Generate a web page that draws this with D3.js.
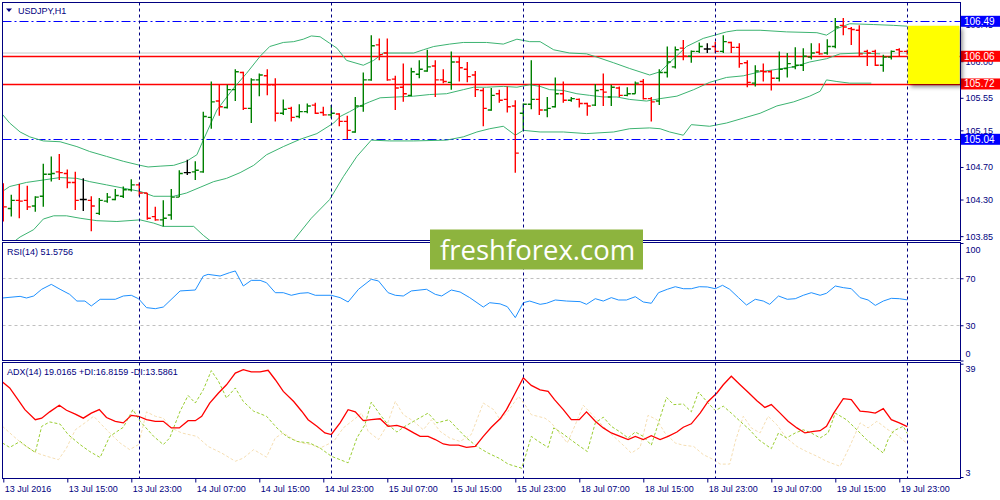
<!DOCTYPE html>
<html>
<head>
<meta charset="utf-8">
<script src="https://cdn.jsdelivr.net/npm/d3@7.9.0/dist/d3.min.js"></script>
<style>
  html, body { margin: 0; padding: 0; background: #fff; }
  svg { display: block; font-family: Tahoma, 'Liberation Sans', Arial, sans-serif; }
  .lbl { font-size: 9px; fill: #000080; }
</style>
</head>
<body>
<div id="chart"></div>
<script>
// ---- data ----
const symbol = 'USDJPY,H1';
const timeLabels = ['13 Jul 2016', '13 Jul 15:00', '13 Jul 23:00', '14 Jul 07:00', '14 Jul 15:00',
  '14 Jul 23:00', '15 Jul 07:00', '15 Jul 15:00', '15 Jul 23:00', '18 Jul 07:00', '18 Jul 15:00',
  '18 Jul 23:00', '19 Jul 07:00', '19 Jul 15:00', '19 Jul 23:00'];
const daySeparators = [17, 41, 65, 89, 113]; // bar index of each 00:00

const opens = [104.29,104.19,104.29,104.29,104.22,104.34,104.61,104.64,104.62,104.51,104.30,104.29,104.13,104.28,104.30,104.34,104.42,104.48,104.38,104.09,
  104.05,104.11,104.33,104.63,104.64,104.64,105.31,105.51,105.43,105.65,105.86,105.42,105.77,105.82,105.71,105.36,105.42,105.32,105.38,105.46,
  105.37,105.34,105.35,105.26,105.13,105.45,105.77,106.20,106.10,105.78,105.68,105.58,105.84,105.88,105.94,105.77,105.74,105.99,105.90,105.83,
  105.64,105.40,105.60,105.53,105.45,105.36,105.47,105.53,105.40,105.44,105.60,105.52,105.53,105.48,105.46,105.65,105.56,105.67,105.58,105.60,
  105.75,105.54,105.51,105.86,105.93,106.16,106.06,106.12,106.15,106.18,106.12,106.23,106.17,105.98,105.73,105.88,105.87,105.79,105.91,105.93,
  105.95,106.05,106.11,106.10,106.18,106.44,106.40,106.38,106.12,106.12,105.95,106.05,106.14,106.12];
const highs = [104.50,104.36,104.49,104.47,104.34,104.74,104.83,104.86,104.67,104.64,104.56,104.34,104.32,104.38,104.43,104.46,104.55,104.51,104.38,104.21,
  104.29,104.43,104.66,104.79,104.77,105.38,105.75,105.71,105.71,105.90,105.87,105.79,105.85,105.90,105.79,105.53,105.44,105.47,105.48,105.49,
  105.44,105.46,105.36,105.33,105.56,105.86,106.32,106.28,106.28,105.82,105.97,105.92,106.01,106.14,106.01,105.90,106.12,106.05,105.99,105.88,
  105.67,105.67,105.65,105.69,105.52,105.48,106.01,105.71,105.56,105.80,105.75,105.56,105.54,105.49,105.72,105.85,105.71,105.69,105.68,105.75,
  105.78,105.56,105.90,106.18,106.18,106.26,106.13,106.23,106.22,106.24,106.32,106.24,106.22,106.01,105.95,105.97,105.89,106.12,106.10,106.17,
  106.16,106.22,106.22,106.27,106.53,106.53,106.42,106.44,106.14,106.14,106.08,106.13,106.16,106.14];
const lows = [104.03,104.09,104.07,104.17,104.15,104.21,104.52,104.54,104.44,104.17,104.16,103.91,104.11,104.26,104.29,104.32,104.40,104.34,104.05,104.04,
  103.97,104.05,104.33,104.60,104.54,104.63,105.17,105.33,105.42,105.51,105.40,105.24,105.57,105.58,105.26,105.34,105.26,105.30,105.36,105.35,
  105.33,105.30,105.20,105.04,105.12,105.38,105.76,106.01,105.76,105.40,105.50,105.57,105.79,105.87,105.56,105.73,105.65,105.75,105.74,105.56,
  105.20,105.39,105.49,105.37,104.63,105.15,105.41,105.34,105.31,105.43,105.49,105.50,105.43,105.33,105.45,105.45,105.45,105.56,105.57,105.60,
  105.53,105.26,105.46,105.80,105.91,106.01,105.98,106.10,106.10,106.10,106.10,106.10,105.92,105.68,105.69,105.75,105.64,105.75,105.80,105.90,
  105.88,106.02,106.08,106.08,106.16,106.32,106.20,106.06,105.94,105.94,105.87,106.02,106.06,106.08];
const closes = [104.21,104.29,104.28,104.21,104.33,104.61,104.62,104.63,104.51,104.29,104.30,104.22,104.29,104.33,104.35,104.42,104.48,104.38,104.07,104.05,
  104.07,104.33,104.62,104.63,104.66,105.32,105.50,105.44,105.65,105.87,105.42,105.77,105.83,105.71,105.36,105.41,105.31,105.38,105.45,105.36,
  105.34,105.36,105.26,105.15,105.45,105.77,106.19,106.08,105.77,105.67,105.60,105.87,105.90,105.93,105.77,105.75,105.99,105.92,105.81,105.65,
  105.42,105.58,105.52,105.44,104.87,105.47,105.53,105.40,105.42,105.60,105.52,105.54,105.48,105.45,105.64,105.62,105.68,105.58,105.60,105.73,
  105.54,105.50,105.86,105.99,106.14,106.06,106.12,106.18,106.15,106.12,106.24,106.17,105.97,105.74,105.88,105.87,105.79,105.90,105.97,105.95,
  106.06,106.10,106.09,106.18,106.42,106.42,106.39,106.09,106.10,105.95,106.05,106.12,106.12,106.10];

// Bollinger bands, [bar, price]
const bbUpper = [[-0.4,105.38],[0.8,105.24],[2.1,105.13],[3.3,105.07],[5,105.02],[7.1,105.01],[9.2,104.95],[10.8,104.89],[12.9,104.83],[15,104.77],
  [17.1,104.72],[18.1,104.70],[19.6,104.71],[21.3,104.72],[22.9,104.77],[24.2,104.85],[25,105.03],[26.7,105.40],[28.8,105.67],[30.4,105.85],
  [32.1,106.06],[33.3,106.18],[35,106.23],[36.3,106.24],[37.5,106.27],[38.5,106.31],[39.6,106.30],[40.8,106.22],[41.7,106.16],[42.9,106.01],
  [45,105.95],[46.3,106.01],[47.5,106.10],[49.6,106.10],[51.3,106.10],[52.5,106.14],[53.8,106.18],[55.8,106.21],[57.5,106.23],[60.4,106.23],
  [62.5,106.21],[64.2,106.27],[65.8,106.24],[67.1,106.24],[68.8,106.14],[70.8,106.10],[72.9,106.09],[74.2,106.05],[76.3,105.98],[78.3,105.91],
  [80.8,105.83],[82.1,105.87],[83.8,106.03],[85.4,106.18],[87.5,106.28],[90.4,106.36],[91.7,106.38],[94.6,106.38],[97.9,106.36],[101.7,106.35],
  [102.9,106.32],[104.2,106.40],[105.8,106.46],[108.8,106.45],[111.3,106.44],[113,106.43]];
const bbMiddle = [[-0.4,104.38],[0.8,104.46],[2.9,104.51],[5,104.54],[7.1,104.57],[9.2,104.56],[10.8,104.52],[12.9,104.48],[15,104.44],[17.1,104.40],
  [18.8,104.34],[21.3,104.34],[22.9,104.38],[24.6,104.45],[26.3,104.52],[27.9,104.56],[29.6,104.63],[31.3,104.72],[32.9,104.85],[35,104.95],
  [37.1,105.04],[39.2,105.11],[41.3,105.24],[42.1,105.32],[43.3,105.38],[44.6,105.45],[45.8,105.50],[47.1,105.55],[49.2,105.56],[51.3,105.57],
  [53.3,105.59],[55.4,105.60],[57.5,105.65],[58.8,105.68],[60.4,105.68],[62.5,105.69],[64.2,105.68],[65.8,105.71],[67.1,105.69],[68.3,105.65],
  [70,105.64],[71.7,105.60],[73.3,105.58],[75,105.56],[76.7,105.56],[78.3,105.53],[80.4,105.51],[82.1,105.54],[84.2,105.57],[86.3,105.65],
  [88.3,105.74],[90.4,105.80],[92.5,105.82],[94.6,105.87],[96.7,105.90],[98.8,105.93],[100.8,105.99],[102.9,106.03],[104.6,106.09],[107.1,106.10],
  [109.6,106.09]];
const bbLower = [[-0.4,103.60],[1.3,103.78],[2.1,103.84],[3.8,103.93],[5,104.06],[6.3,104.10],[7.9,104.10],[9.6,104.07],[11.7,104.04],[14.2,104.03],
  [17.1,104.05],[18.8,104.01],[20,103.97],[23.8,103.97],[25,103.86],[26.3,103.76],[31,103.40],[36.3,103.80],[38.5,104.07],[40.8,104.30],
  [42.5,104.58],[44.2,104.83],[46,105.03],[48.3,105.02],[51.3,105.02],[55.4,105.03],[57.5,105.07],[59.2,105.13],[60.8,105.17],[62.5,105.20],
  [64,105.09],[65,105.15],[67.1,105.13],[70,105.13],[72.9,105.11],[76.3,105.13],[78.3,105.17],[80.8,105.18],[82.1,105.17],[83.3,105.13],
  [85,105.09],[86,105.22],[88.3,105.20],[90.4,105.24],[92.5,105.30],[94.6,105.36],[96.7,105.45],[98.8,105.50],[100.8,105.57],[102.1,105.63],
  [102.9,105.77],[104.2,105.75],[105.8,105.73],[108.5,105.73]];

// horizontal levels
const levelPrices = [106.49, 106.06, 105.72, 105.04];
const levelKinds = ['blue', 'red', 'red', 'blue'];
const askPrice = 106.10;
const priceTicks = [106.45, 106.00, 105.55, 105.15, 104.70, 104.30, 103.85];
const zoneTop = 106.435, zoneBottom = 105.72; // yellow box

// RSI(14), [bar, value]
const rsiLabel = 'RSI(14) 51.5756';
const rsiTicks = [100, 70, 30, 0];
const rsiLevels = [70, 30];
const rsi = [[-0.1,53.2],[2.1,54.6],[2.9,53.2],[3.8,54.9],[4.8,60.6],[6,64.8],[7.1,60.6],[8.3,56.3],[9.2,50.6],[10.2,50.6],[11,46.4],[12.1,52.1],
  [14,52.1],[15,54.9],[16,55.5],[16.9,52.6],[17.9,45.0],[19,44.1],[20,45.5],[22.1,59.2],[24,60.0],[25,71.9],[25.6,73.3],[27.1,71.9],[28.3,74.8],
  [29,76.2],[30,63.4],[31,68.2],[32.1,68.2],[32.9,66.2],[34,57.7],[35,57.7],[36,55.5],[37.1,57.2],[38.1,57.7],[39,55.5],[41,55.5],[42.1,53.5],
  [43.1,49.8],[44.4,60.6],[46,69.1],[46.9,67.7],[48.1,57.7],[49,55.5],[50,54.9],[51,59.2],[52.9,60.6],[54,56.3],[54.8,54.9],[56,60.0],[57.1,58.3],
  [58.3,53.5],[60,45.5],[60.8,49.2],[62.1,48.2],[63,45.8],[64,36.5],[65,49.2],[65.8,50.6],[67.1,47.8],[67.9,48.7],[69,51.5],[70.4,50.6],[72.1,50.1],
  [72.9,47.8],[74,52.6],[75,50.6],[76,53.5],[76.9,51.5],[77.9,51.5],[79,54.3],[80,49.8],[81,48.7],[81.9,57.7],[83,60.6],[84,62.8],[85,61.1],[86,61.1],
  [87,62.8],[88,62.6],[89,61.1],[89.9,64.0],[90.8,60.6],[91.9,53.5],[92.9,47.2],[94,52.1],[95,50.6],[95.8,47.8],[96.9,54.9],[98,52.1],[99,52.6],
  [100,55.5],[101,57.7],[102.1,55.5],[102.9,57.2],[104,63.4],[105,62.0],[106,61.1],[107.1,53.5],[108.1,51.5],[109,46.9],[110,50.6],[111,52.9],
  [112,52.6],[113,51.6]];

// ADX(14), +DI, -DI, [bar, value]
const adxLabel = 'ADX(14) 19.0165 +DI:16.8159 -DI:13.5861';
const adxTicks = [39, 3];
const adx = [[-0.1,33.2],[0.8,31.3],[1.7,28.1],[2.7,24.4],[4,21.2],[4.8,21.7],[5.8,23.7],[7,25.8],[7.9,24.2],[9,23.0],[10,21.7],[11,23.3],[12,24.4],
  [12.9,21.9],[14,20.7],[15,20.2],[16,22.6],[16.9,22.3],[17.9,21.2],[19,20.7],[20,20.7],[21,18.6],[22,18.6],[23.1,20.9],[24,20.9],[24.8,22.3],
  [25.8,26.5],[26.9,29.7],[27.9,32.3],[29,36.0],[30,37.1],[31,36.4],[32.1,36.4],[33.1,36.9],[34,33.9],[35,30.2],[36.3,27.0],[37.3,23.9],[38.1,21.2],
  [39.2,19.1],[40.2,17.0],[41,16.5],[42.1,20.2],[43.1,24.4],[44,23.7],[45,20.9],[46,21.2],[47.1,21.5],[48.1,19.1],[49.2,19.4],[50.2,18.6],[51.3,17.0],
  [52.1,15.9],[53.1,15.9],[54,14.9],[55,13.5],[55.8,13.1],[56.9,13.1],[57.9,12.4],[59,12.7],[60,15.9],[61,18.8],[62.1,21.5],[62.9,24.4],[64,29.7],
  [65,34.5],[66,32.1],[67.1,30.7],[68.1,30.2],[68.9,27.6],[70,24.4],[71,21.2],[72,21.2],[72.9,23.7],[74,20.7],[75,18.6],[76,17.0],[77.1,15.9],
  [78.1,14.9],[79,15.9],[80,14.9],[81,16.1],[82.1,14.9],[83.1,15.9],[84.2,17.3],[85,18.8],[86,19.9],[87.1,23.3],[88.1,27.0],[89.2,29.7],[90,32.3],
  [91,35.0],[92.1,32.3],[93.2,29.7],[94.2,27.2],[95.2,25.1],[96,26.0],[97.1,23.3],[98.1,20.7],[99.2,18.6],[100.2,17.0],[101.3,17.5],[102.1,17.7],
  [102.9,19.1],[103.8,23.3],[105,27.9],[106,27.6],[107.1,23.9],[108.1,23.7],[109,23.3],[110,24.7],[111,21.2],[112,20.2],[113,19.0]];
const plusDI = [[-0.1,13.8],[0.8,12.4],[2.1,14.3],[2.9,12.7],[4,10.8],[4.8,19.1],[5.8,20.5],[7.1,19.8],[8.1,16.5],[9.6,13.3],[10.8,11.1],[12.1,9.2],
  [13.3,15.9],[15,18.8],[16.2,24.4],[17.1,20.7],[18.8,15.9],[20,13.3],[20.8,15.4],[22.1,23.9],[23.1,28.9],[24,26.5],[25,30.7],[26,36.8],[26.9,33.4],
  [27.9,28.1],[29,31.3],[30,27.0],[31.3,23.9],[32.9,22.3],[34.2,18.6],[35.4,15.9],[36.7,14.3],[38.3,13.8],[39.6,12.2],[41,9.6],[43.1,7.5],[44.2,15.4],
  [45.2,19.6],[46,26.8],[47.1,22.8],[48.1,19.6],[49.2,17.3],[50.2,19.1],[51.3,20.7],[53.1,23.3],[54.2,20.2],[55.7,21.2],[56.9,18.0],[57.9,15.4],
  [59.2,12.7],[60.6,10.6],[62.1,8.8],[63.1,7.1],[64.8,5.8],[65.2,9.0],[66,15.9],[66.9,14.3],[68.1,12.4],[68.8,18.6],[69.8,17.0],[70.9,14.9],[72.1,12.7],
  [73,11.1],[74,20.2],[75,22.0],[76,19.1],[77.1,17.3],[78.1,15.4],[79,17.3],[80,15.9],[81,13.1],[81.7,18.6],[82.9,28.3],[83.8,26.0],[85,26.2],[86,23.7],
  [86.9,30.0],[88.1,26.5],[89,24.1],[90,25.5],[91,23.3],[92.1,20.7],[93.3,18.0],[94.4,14.9],[96,12.0],[96.9,17.0],[97.9,15.4],[99,17.0],[100,18.0],
  [101,17.0],[102.1,15.4],[103.1,17.0],[104,23.3],[105.4,21.2],[106.7,18.0],[107.9,14.9],[110,10.6],[110.6,14.9],[111.3,17.7],[112.5,19.1],[113,16.8]];
const minusDI = [[-0.1,19.1],[1.3,15.9],[2.5,13.3],[4.2,10.6],[5.4,9.6],[6.9,8.5],[7.9,12.2],[9,18.0],[10.2,20.2],[11.3,22.3],[12.3,19.6],[13.3,17.0],
  [14.6,13.8],[15.8,11.7],[16.9,13.3],[17.9,23.7],[19,22.3],[20,21.7],[21,18.6],[22.3,17.0],[24.2,15.9],[25.6,12.7],[27.3,10.6],[29,8.0],[30,9.0],
  [31.3,11.7],[32.9,9.3],[34,15.4],[35,17.0],[36.3,14.9],[37.3,13.8],[38.5,13.3],[39.6,12.2],[41.3,14.3],[42.5,18.6],[43.8,21.2],[44.8,23.3],[45.6,17.5],
  [46.9,14.9],[47.9,19.1],[49,27.0],[50,22.8],[51.3,20.7],[52.5,18.0],[53.5,21.2],[54.6,17.5],[55.8,15.4],[57.1,14.3],[58.5,16.5],[60,26.5],[61.3,24.4],
  [62.1,21.2],[63.1,23.9],[64.4,28.6],[65.2,26.0],[66,22.8],[67.7,21.7],[68.5,20.2],[69.5,17.0],[70.5,13.8],[71.5,19.6],[72.5,25.8],[73.8,22.3],[75,19.1],
  [76.3,15.9],[77.5,13.1],[78.5,10.6],[79.6,12.4],[80.6,22.6],[81.7,21.2],[82.7,17.0],[84,13.8],[85,13.1],[86.3,12.7],[87.5,10.1],[88.8,8.5],[89.6,7.1],
  [90.8,7.1],[91.5,14.3],[92.5,22.3],[93.5,18.6],[94.6,17.0],[95.6,22.3],[96.7,19.6],[97.9,15.4],[99.2,12.7],[100.4,11.1],[101.7,9.6],[102.9,8.0],
  [104.6,6.4],[105.8,12.7],[107.1,20.2],[108.1,18.6],[109.2,20.7],[110.6,18.0],[111.7,16.4],[113,13.6]];

const watermark = 'freshforex.com';

// ---- layout ----
const W = 1000, H = 500;
const L = 2.5, R = 960.5;
const mainP = { top: 2.5, bottom: 240.5 };
const rsiP = { top: 242.5, bottom: 360.5 };
const adxP = { top: 362.5, bottom: 478.5 };
const NAVY = '#000080';

const svg = d3.select('#chart').append('svg').attr('width', W).attr('height', H);
const defs = svg.append('defs');
[['clipMain', mainP], ['clipRsi', rsiP], ['clipAdx', adxP]].forEach(([id, p]) => {
  defs.append('clipPath').attr('id', id).append('rect')
    .attr('x', L).attr('y', p.top).attr('width', R - L).attr('height', p.bottom - p.top);
});
const shadow = defs.append('filter').attr('id', 'shadow')
  .attr('x', '-20%').attr('y', '-20%').attr('width', '150%').attr('height', '150%');
shadow.append('feDropShadow').attr('dx', 3).attr('dy', 3).attr('stdDeviation', 2)
  .attr('flood-color', '#000').attr('flood-opacity', 0.45);

// scales
const x = d3.scaleLinear().domain([0, 113]).range([3.3, 907.3]);
const yP = d3.scaleLinear().domain([105.04, 106.49]).range([139.3, 21.3]);
const yR = d3.scaleLinear().domain([0, 100]).range([360.5, 243]);
const yA = d3.scaleLinear().domain([3, 39]).range([477, 363.7]);

// ---- main panel ----
const gMain = svg.append('g').attr('clip-path', 'url(#clipMain)');

// ask line (grey) and horizontal levels
gMain.append('line').attr('x1', L).attr('x2', R)
  .attr('y1', yP(askPrice)).attr('y2', yP(askPrice))
  .attr('stroke', '#c8c8c8').attr('stroke-width', 1);

levelPrices.forEach((p, i) => {
  const isBlue = levelKinds[i] === 'blue';
  gMain.append('line').attr('x1', L).attr('x2', R)
    .attr('y1', Math.round(yP(p)) + 0.5).attr('y2', Math.round(yP(p)) + 0.5)
    .attr('stroke', isBlue ? '#0000ff' : '#ff0000')
    .attr('stroke-width', isBlue ? 1 : 1.3)
    .attr('stroke-dasharray', isBlue ? '9,3,2,3' : null);
});

// bollinger bands
const priceLine = d3.line().x(d => x(d[0])).y(d => yP(d[1]));
[bbUpper, bbMiddle, bbLower].forEach(band => {
  gMain.append('path').datum(band).attr('d', priceLine)
    .attr('fill', 'none').attr('stroke', '#3cb371').attr('stroke-width', 1);
});

// OHLC bars
const bars = d3.range(opens.length).map(i => ({
  i, o: opens[i], h: highs[i], l: lows[i], c: closes[i]
}));
const barColor = d => d.c > d.o ? '#008000' : (d.c < d.o ? '#ff0000' : '#000000');
const bg = gMain.selectAll('g.bar').data(bars).join('g').attr('class', 'bar')
  .attr('stroke', barColor).attr('stroke-width', 1.4);
bg.append('line')
  .attr('x1', d => x(d.i)).attr('x2', d => x(d.i))
  .attr('y1', d => yP(d.h)).attr('y2', d => yP(d.l));
bg.append('line')
  .attr('x1', d => x(d.i) - 3.5).attr('x2', d => x(d.i))
  .attr('y1', d => yP(d.o)).attr('y2', d => yP(d.o));
bg.append('line')
  .attr('x1', d => x(d.i)).attr('x2', d => x(d.i) + 3.5)
  .attr('y1', d => yP(d.c)).attr('y2', d => yP(d.c));

// ---- RSI panel ----
const gRsi = svg.append('g').attr('clip-path', 'url(#clipRsi)');
rsiLevels.forEach(v => {
  gRsi.append('line').attr('x1', L).attr('x2', R)
    .attr('y1', Math.round(yR(v)) + 0.5).attr('y2', Math.round(yR(v)) + 0.5)
    .attr('stroke', '#c0c0c0').attr('stroke-dasharray', '3,3');
});
gRsi.append('path').datum(rsi)
  .attr('d', d3.line().x(d => x(d[0])).y(d => yR(d[1])))
  .attr('fill', 'none').attr('stroke', '#1e90ff').attr('stroke-width', 1);

// ---- ADX panel ----
const gAdx = svg.append('g').attr('clip-path', 'url(#clipAdx)');
const adxLine = d3.line().x(d => x(d[0])).y(d => yA(d[1]));
gAdx.append('path').datum(minusDI).attr('d', adxLine)
  .attr('fill', 'none').attr('stroke', '#f5deb3').attr('stroke-width', 1).attr('stroke-dasharray', '3,2');
gAdx.append('path').datum(plusDI).attr('d', adxLine)
  .attr('fill', 'none').attr('stroke', '#9acd32').attr('stroke-width', 1).attr('stroke-dasharray', '3,2');
gAdx.append('path').datum(adx).attr('d', adxLine)
  .attr('fill', 'none').attr('stroke', '#ff0000').attr('stroke-width', 1.3);

// day separators through all panels
daySeparators.forEach(b => {
  svg.append('line')
    .attr('x1', Math.round(x(b)) + 0.5).attr('x2', Math.round(x(b)) + 0.5)
    .attr('y1', mainP.top).attr('y2', adxP.bottom)
    .attr('stroke', NAVY).attr('stroke-dasharray', '3,3');
});

// panel frames
[mainP, rsiP, adxP].forEach(p => {
  svg.append('rect').attr('x', L).attr('y', p.top)
    .attr('width', R - L).attr('height', p.bottom - p.top)
    .attr('fill', 'none').attr('stroke', NAVY).attr('stroke-width', 1);
});

// ---- right axes ----
function rightAxis(scale, values, fmt) {
  const g = svg.append('g').attr('transform', `translate(${R},0)`)
    .call(d3.axisRight(scale).tickValues(values).tickSize(3).tickPadding(2).tickFormat(fmt));
  g.select('.domain').remove();
  g.selectAll('line').attr('stroke', NAVY);
  g.selectAll('text').attr('class', 'lbl').attr('font-family', null).attr('font-size', null);
  return g;
}
rightAxis(yP, priceTicks, d3.format('.2f'));
const rsiAx = rightAxis(yR, rsiTicks, d3.format('d'));
rsiAx.selectAll('text').attr('dy', d => d === 100 ? '1.05em' : (d === 0 ? '-0.4em' : '0.32em'));
const adxAx = rightAxis(yA, adxTicks, d3.format('d'));
adxAx.selectAll('text').attr('dy', d => d === 39 ? '0.9em' : '-0.2em');

// level price tags
levelPrices.forEach((p, i) => {
  const yy = yP(p);
  svg.append('rect').attr('x', 961).attr('y', yy - 5.5).attr('width', 39).attr('height', 11)
    .attr('fill', levelKinds[i] === 'blue' ? '#0000ff' : '#ff0000');
  svg.append('text').attr('x', 964).attr('y', yy).attr('dy', '0.34em')
    .attr('font-size', 10).attr('fill', '#fff').text(d3.format('.2f')(p));
});

// yellow zone with shadow
svg.append('rect')
  .attr('x', x(113) + 0.5).attr('y', yP(zoneTop))
  .attr('width', R - 1.5 - x(113)).attr('height', yP(zoneBottom) - yP(zoneTop))
  .attr('fill', '#ffff00').attr('filter', 'url(#shadow)');

// ---- bottom time axis ----
const tickBars = timeLabels.map((_, k) => k * 8);
const tAx = svg.append('g').attr('transform', `translate(0,${adxP.bottom})`)
  .call(d3.axisBottom(x).tickValues(tickBars).tickSize(4).tickPadding(3)
    .tickFormat((d, k) => timeLabels[k]));
tAx.select('.domain').remove();
tAx.selectAll('line').attr('stroke', NAVY);
tAx.selectAll('text').attr('class', 'lbl').attr('font-family', null).attr('font-size', null)
  .attr('text-anchor', 'start').attr('dx', 1);

// ---- titles ----
svg.append('path').attr('d', 'M6,8.5 L12,8.5 L9,12 Z').attr('fill', NAVY);
svg.append('text').attr('class', 'lbl').attr('x', 18).attr('y', 13.5).text(symbol);
svg.append('text').attr('class', 'lbl').attr('x', 7).attr('y', 254.5).text(rsiLabel);
svg.append('text').attr('class', 'lbl').attr('x', 7).attr('y', 375).text(adxLabel);

// ---- watermark ----
svg.append('rect').attr('x', 430).attr('y', 229.5).attr('width', 213).attr('height', 40)
  .attr('fill', '#8db43e');
svg.append('text').attr('x', 440).attr('y', 259.5)
  .attr('font-family', "'Open Sans', 'Noto Sans', sans-serif").attr('font-size', 27.5)
  .attr('fill', '#fff').text(watermark);
</script>
</body>
</html>
